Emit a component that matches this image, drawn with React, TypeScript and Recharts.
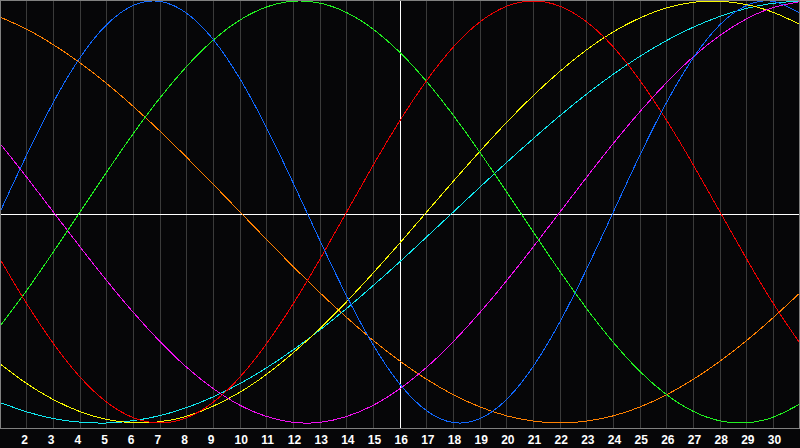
import React from 'react';
import { LineChart, Line, XAxis, YAxis, CartesianGrid, ReferenceLine } from 'recharts';

const days = [1, 2, 3, 4, 5, 6, 7, 8, 9, 10, 11, 12, 13, 14, 15, 16, 17, 18, 19, 20, 21, 22, 23, 24, 25, 26, 27, 28, 29, 30, 31];
const dayTicks = [2, 3, 4, 5, 6, 7, 8, 9, 10, 11, 12, 13, 14, 15, 16, 17, 18, 19, 20, 21, 22, 23, 24, 25, 26, 27, 28, 29, 30];
const today = 16;

// physical (23 days)
const physical = [0, 27.0, 52.0, 73.1, 88.8, 97.9, 99.8, 94.2, 81.7, 63.1, 39.8, 13.6, -13.6, -39.8, -63.1, -81.7, -94.2, -99.8, -97.9, -88.8, -73.1, -52.0, -27.0, 0, 27.0, 52.0, 73.1, 88.8, 97.9, 99.8, 94.2];
// emotional (28 days)
const emotional = [-22.3, -43.4, -62.3, -78.2, -90.1, -97.5, -100, -97.5, -90.1, -78.2, -62.3, -43.4, -22.3, 0, 22.3, 43.4, 62.3, 78.2, 90.1, 97.5, 100, 97.5, 90.1, 78.2, 62.3, 43.4, 22.3, 0, -22.3, -43.4, -62.3];
// intellectual (33 days)
const intellectual = [-54.1, -37.2, -18.9, 0, 18.9, 37.2, 54.1, 69.0, 81.5, 91.0, 97.2, 99.9, 99.0, 94.5, 86.6, 75.6, 61.8, 45.8, 28.2, 9.5, -9.5, -28.2, -45.8, -61.8, -75.6, -86.6, -94.5, -99.0, -99.9, -97.2, -91.0];
// intuitive (38 days)
const intuitive = [32.5, 16.5, 0, -16.5, -32.5, -47.6, -61.4, -73.6, -83.7, -91.6, -96.9, -99.7, -99.7, -96.9, -91.6, -83.7, -73.6, -61.4, -47.6, -32.5, -16.5, 0, 16.5, 32.5, 47.6, 61.4, 73.6, 83.7, 91.6, 96.9, 99.7];
// aesthetic (43 days)
const aesthetic = [-72.0, -81.3, -88.9, -94.6, -98.3, -99.9, -99.4, -96.8, -92.0, -85.4, -76.9, -66.7, -55.2, -42.5, -28.8, -14.6, 0, 14.6, 28.8, 42.5, 55.2, 66.7, 76.9, 85.4, 92.0, 96.8, 99.4, 99.9, 98.3, 94.6, 88.9];
// awareness (48 days)
const awareness = [92.4, 86.6, 79.3, 70.7, 60.9, 50.0, 38.3, 25.9, 13.1, 0, -13.1, -25.9, -38.3, -50.0, -60.9, -70.7, -79.3, -86.6, -92.4, -96.6, -99.1, -100, -99.1, -96.6, -92.4, -86.6, -79.3, -70.7, -60.9, -50.0, -38.3];
// spiritual (53 days)
const spiritual = [-90.3, -94.7, -97.9, -99.6, -100.0, -98.9, -96.5, -92.7, -87.6, -81.3, -73.8, -65.3, -55.9, -45.7, -34.8, -23.5, -11.8, 0, 11.8, 23.5, 34.8, 45.7, 55.9, 65.3, 73.8, 81.3, 87.6, 92.7, 96.5, 98.9, 100.0];

const data = days.map((day, i) => ({
  day,
  physical: physical[i],
  emotional: emotional[i],
  intellectual: intellectual[i],
  intuitive: intuitive[i],
  aesthetic: aesthetic[i],
  awareness: awareness[i],
  spiritual: spiritual[i],
}));

const series = [
  { key: 'awareness', color: '#ff8000' },
  { key: 'spiritual', color: '#10e8f0' },
  { key: 'aesthetic', color: '#f8f800' },
  { key: 'intuitive', color: '#f010f0' },
  { key: 'intellectual', color: '#20f020' },
  { key: 'emotional', color: '#f00000' },
  { key: 'physical', color: '#1068ff' },
];

const DayTick = (props: any) => {
  const { x, payload } = props;
  return (
    <text
      x={x - 5.5}
      y={444}
      textAnchor="start"
      fill="#ffffff"
      fontFamily="'Liberation Sans', Arial, sans-serif"
      fontWeight="bold"
      fontSize={12}
    >
      {payload.value}
    </text>
  );
};

export default function App() {
  return (
    <div style={{ position: 'absolute', left: 0, top: 0, width: 800, height: 448, background: '#060608', overflow: 'hidden' }}>
      <LineChart width={800} height={448} data={data} margin={{ top: 0, right: 0, bottom: 0, left: 0 }}>
        <CartesianGrid horizontal={false} vertical stroke="#3a3a3a" shapeRendering="crispEdges" />
        <XAxis
          dataKey="day"
          type="number"
          domain={[1, 31]}
          ticks={dayTicks}
          interval={0}
          tickLine={false}
          axisLine={false}
          height={20}
          tick={<DayTick />}
        />
        <YAxis hide domain={[-102.37, 100.474]} />
        <ReferenceLine y={-1.18} stroke="#ffffff" strokeWidth={1} shapeRendering="crispEdges" />
        <ReferenceLine x={today} stroke="#ffffff" strokeWidth={1} shapeRendering="crispEdges" />
        {series.map((s) => (
          <Line
            key={s.key}
            type="natural"
            dataKey={s.key}
            stroke={s.color}
            strokeWidth={1}
            shapeRendering="crispEdges"
            dot={false}
            activeDot={false}
            isAnimationActive={false}
          />
        ))}
      </LineChart>
      <div
        style={{
          position: 'absolute',
          left: 0,
          top: 0,
          width: 800,
          height: 429,
          border: '1px solid #808080',
          boxSizing: 'border-box',
          pointerEvents: 'none',
        }}
      />
    </div>
  );
}
